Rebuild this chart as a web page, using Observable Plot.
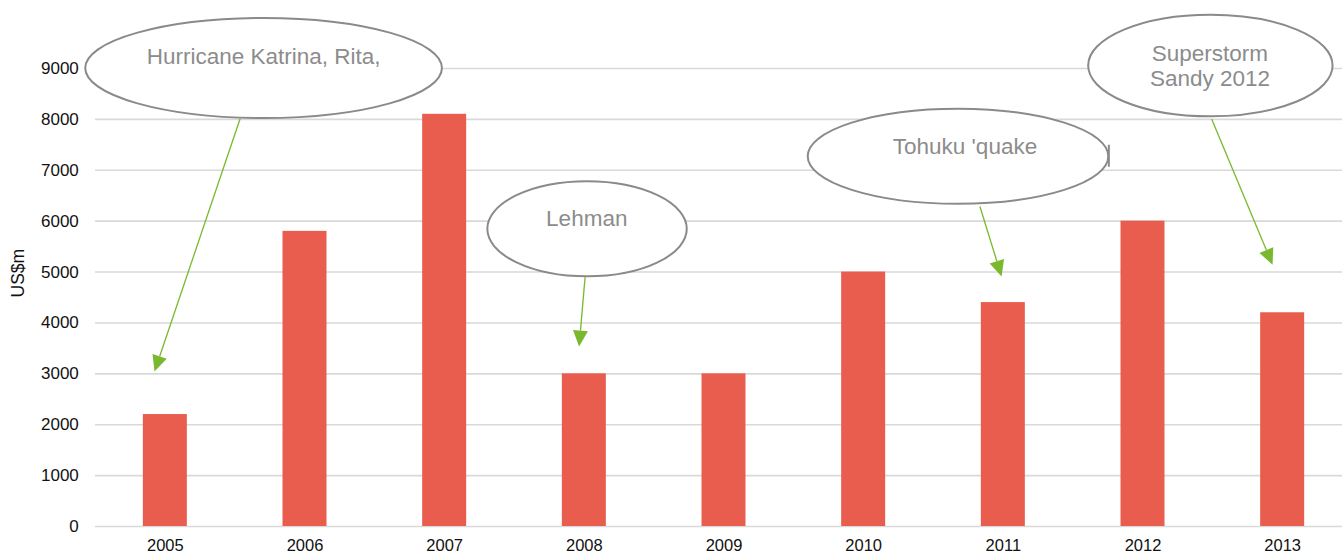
<!DOCTYPE html>
<html>
<head>
<meta charset="utf-8">
<script src="https://cdn.jsdelivr.net/npm/d3@7"></script>
<script src="https://cdn.jsdelivr.net/npm/@observablehq/plot@0.6"></script>
<style>
  html, body { margin: 0; padding: 0; background: #fff; }
  #chart { width: 1342px; height: 554px; overflow: hidden; }
</style>
</head>
<body>
<div id="chart"></div>
<script>
// ---- data ----
const years = [2005, 2006, 2007, 2008, 2009, 2010, 2011, 2012, 2013];
const values = [2200, 5800, 8100, 3000, 3000, 5000, 4400, 6000, 4200];
const yTicks = [0, 1000, 2000, 3000, 4000, 5000, 6000, 7000, 8000, 9000];
const yLabel = "US$m";

// ---- annotations (positions in data space: fractional year, US$m) ----
const noteLines = [["Hurricane Katrina, Rita,"], ["Lehman"], ["Tohuku 'quake"], ["Superstorm", "Sandy 2012"]];
const noteCenterX = [2005.707, 2008.023, 2010.679, 2012.486];
const noteCenterY = [9000, 5840, 7266, 9049];
const noteRadiusX = [1.277, 0.714, 1.076, 0.875];
const noteRadiusY = [983, 934, 934, 999];
const noteTextX = [2005.707, 2008.021, 2010.729, 2012.483];
const noteTextY = [9085, 5886, 7315, 9130];
const arrowFromX = [2005.539, 2008.009, 2010.836, 2012.495];
const arrowFromY = [8003, 4890, 6279, 7997];
const arrowToX = [2004.926, 2007.966, 2010.991, 2012.931];
const arrowToY = [3034, 3526, 4902, 5132];
// small stray box edge beside the Tohuku bubble
const strayX = [2011.759];
const strayY1 = [7492];
const strayY2 = [7059];

const data = years.map((year, i) => ({year, value: values[i]}));

const FONT = "'Liberation Sans', Arial, Helvetica, sans-serif";

function annotations(index, scales) {
  const x = scales.x, y = scales.y;
  const step = x(years[1]) - x(years[0]);
  const bw = typeof x.bandwidth === "function" ? x.bandwidth() : 0;
  const base = x(years[0]) + bw / 2;
  const px = (v) => base + (v - years[0]) * step;
  const g = d3.create("svg:g");
  noteLines.forEach((lines, i) => {
    const cx = px(noteCenterX[i]), cy = y(noteCenterY[i]);
    const rx = noteRadiusX[i] * step;
    const ry = Math.abs(y(0) - y(noteRadiusY[i]));
    g.append("ellipse")
      .attr("cx", cx).attr("cy", cy).attr("rx", rx).attr("ry", ry)
      .attr("fill", "#fff").attr("stroke", "#8a8a8a").attr("stroke-width", 2);
    const t = g.append("text")
      .attr("x", px(noteTextX[i])).attr("y", y(noteTextY[i]))
      .attr("text-anchor", "middle")
      .attr("fill", "#8c8c8c")
      .attr("font-family", FONT)
      .attr("font-size", 22.5);
    lines.forEach((line, k) => {
      t.append("tspan").attr("x", px(noteTextX[i])).attr("dy", k === 0 ? 0 : "1.11em").text(line);
    });
    // arrow
    const x1 = px(arrowFromX[i]), y1 = y(arrowFromY[i]);
    const x2 = px(arrowToX[i]), y2 = y(arrowToY[i]);
    const dx = x2 - x1, dy = y2 - y1, len = Math.hypot(dx, dy);
    const ux = dx / len, uy = dy / len;
    const hl = 16, hw = 7.5;
    const bx = x2 - ux * hl, by = y2 - uy * hl;
    g.append("line")
      .attr("x1", x1).attr("y1", y1).attr("x2", bx).attr("y2", by)
      .attr("stroke", "#7ab82e").attr("stroke-width", 1.3);
    g.append("path")
      .attr("d", `M${x2},${y2}L${bx - uy * hw},${by + ux * hw}L${bx + uy * hw},${by - ux * hw}Z`)
      .attr("fill", "#7ab82e");
  });
  strayX.forEach((sx, i) => {
    g.append("line")
      .attr("x1", px(sx)).attr("x2", px(sx))
      .attr("y1", y(strayY1[i])).attr("y2", y(strayY2[i]))
      .attr("stroke", "#8a8a8a").attr("stroke-width", 2);
  });
  return g.node();
}

const chart = Plot.plot({
  width: 1342,
  height: 554,
  marginLeft: 95,
  marginRight: 0,
  marginTop: 68,
  marginBottom: 28,
  style: {fontFamily: FONT, fontSize: "17px", color: "#111", background: "#fff", overflow: "visible"},
  x: {type: "band", domain: years, range: [95, 1352], paddingInner: 0.685, paddingOuter: 0.3425, align: 0.5, round: false},
  y: {domain: [0, 9000]},
  marks: [
    Plot.ruleY(yTicks, {stroke: "#d9d9d9", strokeWidth: 1.6}),
    Plot.barY(data, {x: "year", y: "value", fill: "#e85d4e"}),
    Plot.axisY({ticks: yTicks, tickSize: 0, tickPadding: 16.7, fontSize: 17, tickFormat: (d) => String(d), label: null}),
    Plot.axisX({tickSize: 0, tickPadding: 12.5, fontSize: 16.5, tickFormat: (d) => String(d), label: null}),
    Plot.text([yLabel], {frameAnchor: "left", rotate: -90, dx: -77, fontSize: 17.5, fill: "#111", text: (d) => d}),
    annotations
  ]
});
document.getElementById("chart").appendChild(chart);
</script>
</body>
</html>
